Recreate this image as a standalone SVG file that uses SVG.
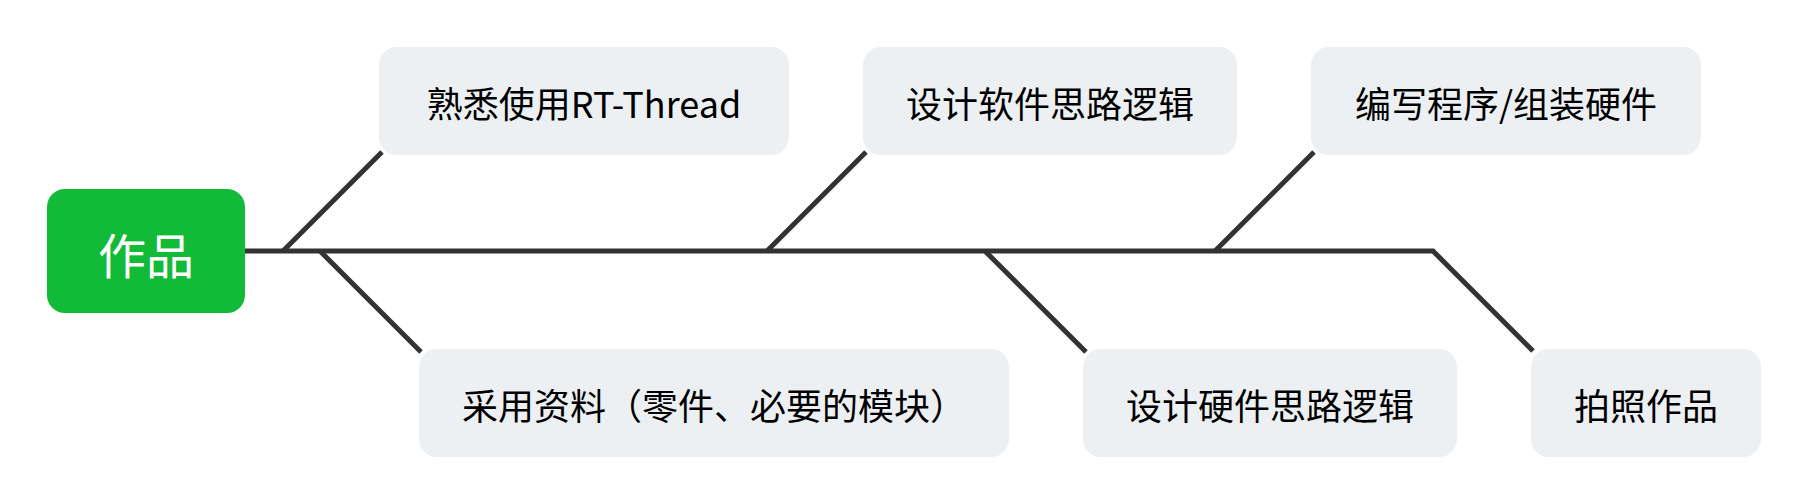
<svg xmlns="http://www.w3.org/2000/svg" width="1808" height="504" viewBox="0 0 1808 504">
<style>
  .bone { fill: none; stroke: #333333; stroke-width: 5; stroke-linecap: butt; stroke-linejoin: miter; }
  .node rect { fill: #EDF0F3; }
  .node text { fill: #000000; font-family: "Noto Sans CJK SC", "Noto Sans", sans-serif; font-size: 36px; text-anchor: middle; dominant-baseline: central; }
  #root rect { fill: #12BB37; }
  #root text { fill: #FFFFFF; font-family: "Noto Sans CJK SC", "Noto Sans", sans-serif; font-size: 48px; text-anchor: middle; dominant-baseline: central; }
</style>
<rect width="1808" height="504" fill="#FFFFFF"/>
<g id="connectors">
  <path class="bone" d="M245,251 H1433 L1533,351"/>
  <path class="bone" d="M283,251 L382,152"/>
  <path class="bone" d="M767,251 L866,152"/>
  <path class="bone" d="M1215,251 L1314,152"/>
  <path class="bone" d="M320,251 L421,352"/>
  <path class="bone" d="M985,251 L1086,352"/>
</g>
<g id="root">
  <rect x="47" y="189" width="198" height="124" rx="18" ry="18"/>
  <text x="146" y="253">作品</text>
</g>
<g id="n1" class="node">
  <rect x="379" y="47" width="410" height="108" rx="18" ry="18"/>
  <text x="584" y="102">熟悉使用RT-Thread</text>
</g>
<g id="n2" class="node">
  <rect x="863" y="47" width="374" height="108" rx="18" ry="18"/>
  <text x="1050" y="102">设计软件思路逻辑</text>
</g>
<g id="n3" class="node">
  <rect x="1311" y="47" width="390" height="108" rx="18" ry="18"/>
  <text x="1506" y="102">编写程序/组装硬件</text>
</g>
<g id="n4" class="node">
  <rect x="419" y="349" width="590" height="108" rx="18" ry="18"/>
  <text x="714" y="404">采用资料（零件、必要的模块）</text>
</g>
<g id="n5" class="node">
  <rect x="1083" y="349" width="374" height="108" rx="18" ry="18"/>
  <text x="1270" y="404">设计硬件思路逻辑</text>
</g>
<g id="n6" class="node">
  <rect x="1531" y="349" width="230" height="108" rx="18" ry="18"/>
  <text x="1646" y="404">拍照作品</text>
</g>
</svg>
